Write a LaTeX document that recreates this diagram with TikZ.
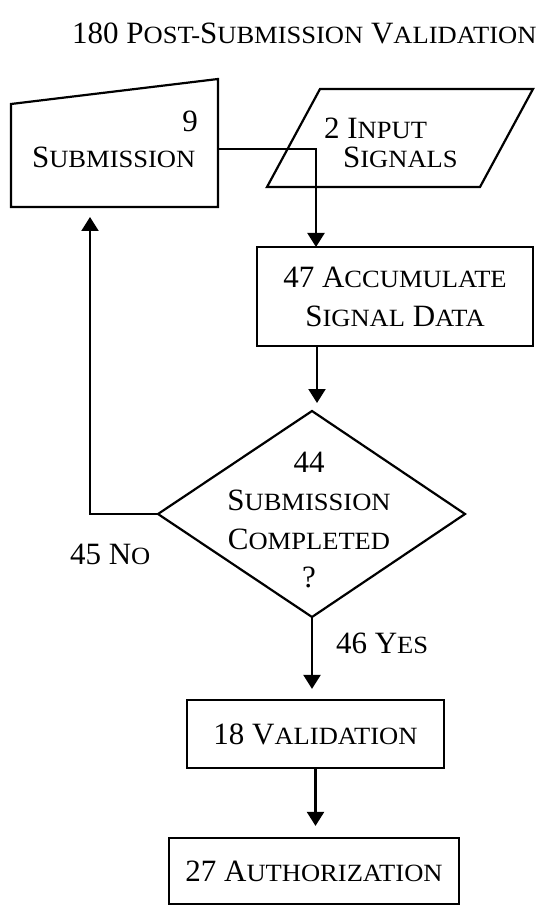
\documentclass[tikz,border=0pt]{standalone}
\usepackage{fontspec}
\setmainfont{Liberation Serif}
\newfontfamily\scf[FakeStretch=1.07]{Liberation Serif}
\usetikzlibrary{arrows.meta}
\newcommand\Sc[1]{{\scf\fontsize{24.8}{24.8}\selectfont #1}}
\begin{document}
\begin{tikzpicture}[x=1pt,y=-1pt,line width=2.2pt,
  txt/.style={inner sep=0pt,font=\fontsize{31}{38}\selectfont},
  box/.style={draw,line width=2.2pt,inner sep=0pt,align=center,font=\fontsize{31}{39}\selectfont},
  arr/.style={-{Triangle[width=17pt,length=14pt]},line width=2.2pt}]
\useasboundingbox (0,0) rectangle (539,909);
% title
\node[txt,anchor=base west] (title) at (71,44) {180 P\Sc{OST-}S\Sc{UBMISSION} V\Sc{ALIDATION}};
% submission (manual input)
\coordinate (subTL) at (11,104);
\coordinate (subTR) at (218,79);
\coordinate (subBR) at (218,207);
\coordinate (subBL) at (11,207);
\draw (subTL) -- (subTR) -- (subBR) -- (subBL) -- cycle;
\node[txt,anchor=base east] (subnum) at (199,132) {9};
\node[txt,anchor=base west] (sublbl) at (31,168) {S\Sc{UBMISSION}};
% input signals (parallelogram)
\coordinate (inTL) at (320,89);
\coordinate (inTR) at (533,89);
\coordinate (inBR) at (480,187);
\coordinate (inBL) at (267,187);
\draw (inTL) -- (inTR) -- (inBR) -- (inBL) -- cycle;
\node[txt,anchor=base west] (in1) at (323,139) {2 I\Sc{NPUT}};
\node[txt,anchor=base west] (in2) at (342,168) {S\Sc{IGNALS}};
% accumulate
\node[box,minimum width=276pt,minimum height=99pt] (acc) at (395,296.5)
  {47 A\Sc{CCUMULATE}\\S\Sc{IGNAL} D\Sc{ATA}};
\coordinate (subOut) at (218,149);
\coordinate (accIn) at (316,247);
\draw[arr] (subOut) -| (accIn);
% diamond
\coordinate (diaT) at (312,411);
\coordinate (diaR) at (465,514);
\coordinate (diaB) at (312,617);
\coordinate (diaL) at (158,514);
\draw (diaT) -- (diaR) -- (diaB) -- (diaL) -- cycle;
\node[txt,align=center,font=\fontsize{31}{38.3}\selectfont] (dia) at (309,520)
  {44\\S\Sc{UBMISSION}\\C\Sc{OMPLETED}\\?};
\coordinate (accOut) at (317,346);
\draw[arr,shorten >=8pt] (accOut) -- (accOut |- diaT);
% no loop
\coordinate (subBot) at (90,207);
\draw[arr,shorten >=10pt] (diaL) -| (subBot);
\node[txt,anchor=base west] (no) at (69,564) {45 N\Sc{O}};
% validation
\node[box,minimum width=257pt,minimum height=68pt] (val) at (315.5,734) {18 V\Sc{ALIDATION}};
\draw[arr,shorten >=10pt] (diaB) -- (diaB |- val.north);
\node[txt,anchor=base west] (yes) at (335,653) {46 Y\Sc{ES}};
% authorization
\node[box,minimum width=290pt,minimum height=66pt] (auth) at (314,871) {27 A\Sc{UTHORIZATION}};
\draw[arr,shorten >=11pt] (val.south) -- (val.south |- auth.north);
\end{tikzpicture}
\end{document}
